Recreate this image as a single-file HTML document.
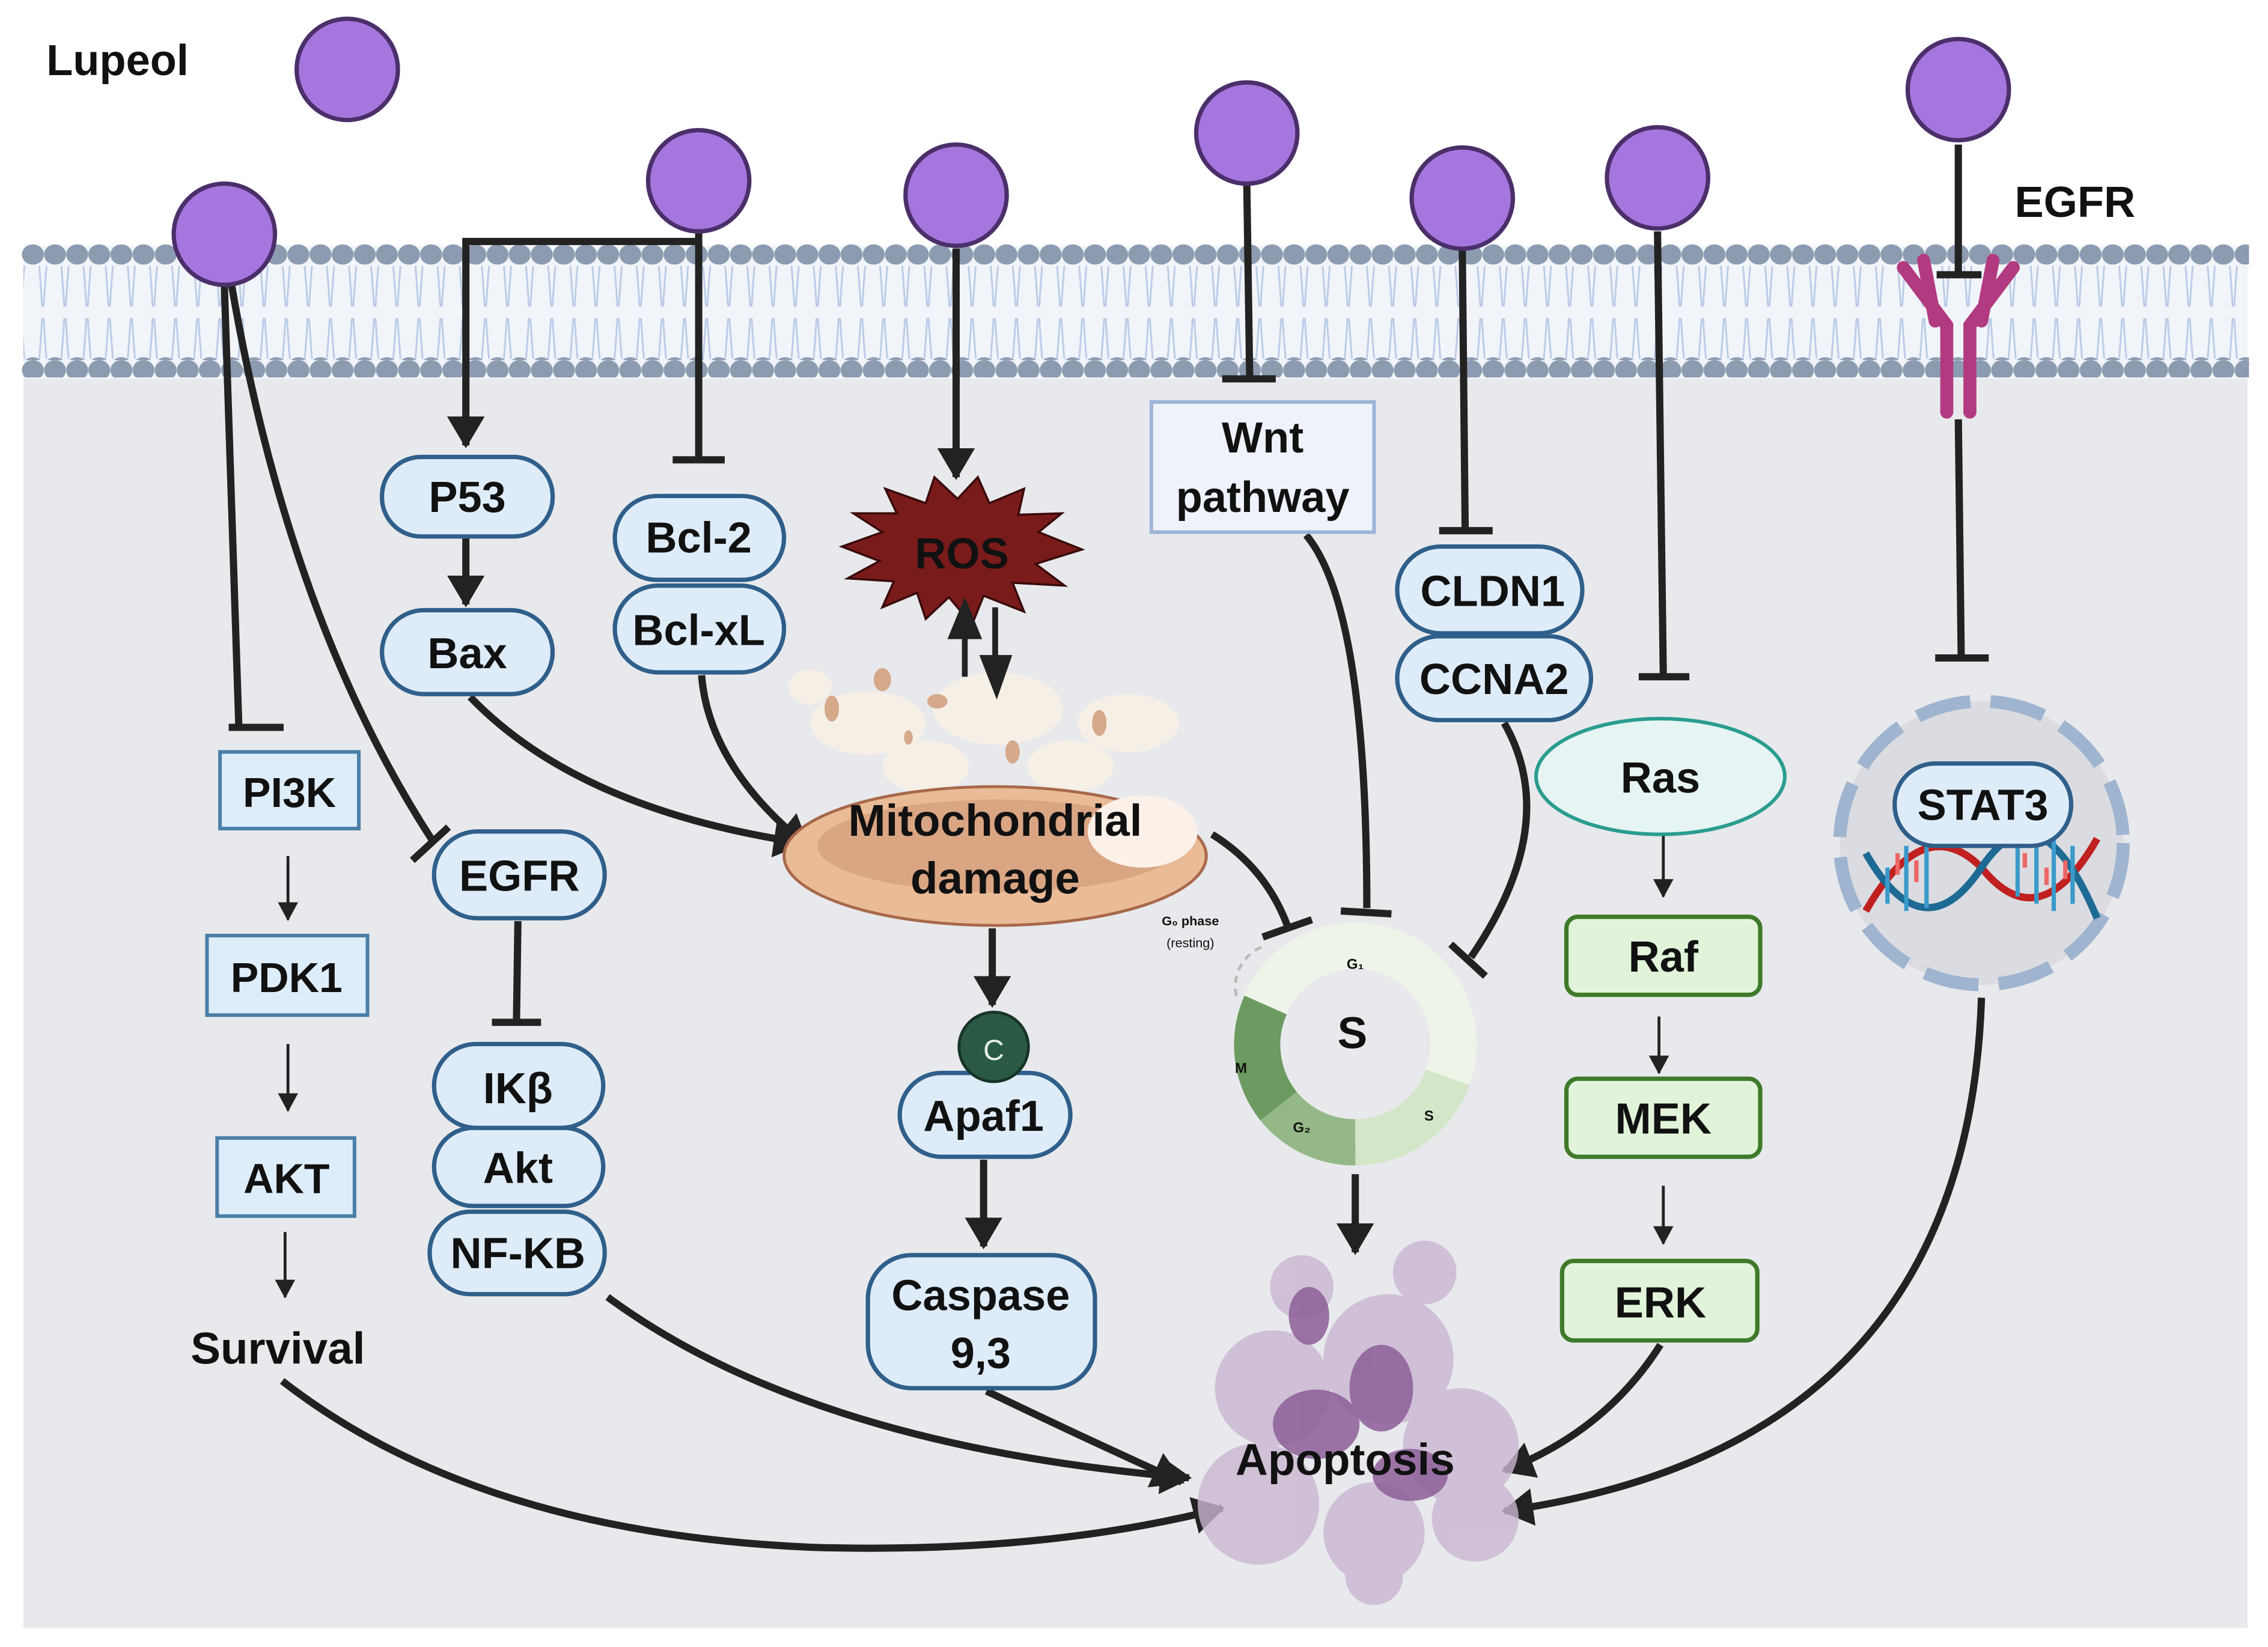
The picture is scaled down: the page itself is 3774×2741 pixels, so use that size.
<!DOCTYPE html>
<html><head><meta charset="utf-8"><style>
html,body{margin:0;padding:0;background:#fff}
svg{display:block}
text{font-family:"Liberation Sans",sans-serif;font-weight:bold;fill:#111}
</style></head><body>
<svg width="3774" height="2741" viewBox="0 0 1568 1139" xmlns="http://www.w3.org/2000/svg">
<defs>
<marker id="a" markerUnits="userSpaceOnUse" markerWidth="30" markerHeight="30" refX="20" refY="13" orient="auto"><path d="M0,0 L22,13 L0,26 Z" fill="#222"/></marker>
<marker id="s" markerUnits="userSpaceOnUse" markerWidth="16" markerHeight="16" refX="12" refY="7" orient="auto"><path d="M0,0 L13,7 L0,14 Z" fill="#222"/></marker>
<pattern id="tails" width="15.3" height="80" patternUnits="userSpaceOnUse" x="22" y="176">
<path d="M5,8 Q6,20 7,36 M10,8 Q9,20 8,36 M5,72 Q6,60 7,44 M10,72 Q9,60 8,44" stroke="#b9cbe6" stroke-width="1.2" fill="none"/>
</pattern>
<pattern id="heads" width="15.3" height="80" patternUnits="userSpaceOnUse" x="15" y="169">
<ellipse cx="7.6" cy="7" rx="7.6" ry="7" fill="#8d9bb1"/>
<ellipse cx="7.6" cy="85" rx="7.6" ry="7" fill="#8d9bb1"/>
</pattern>
</defs>

<rect x="16" y="175" width="1538" height="951" fill="#e8e9ec"/>
<rect x="16" y="170" width="1538" height="92" fill="#f1f4f9"/>
<rect x="16" y="176" width="1538" height="80" fill="url(#tails)"/>
<rect x="15" y="169" width="1540" height="14" fill="url(#heads)"/>
<rect x="15" y="247" width="1540" height="14" fill="url(#heads)"/>

<text x="32" y="52" font-size="30">Lupeol</text>
<text x="1393" y="150" font-size="30">EGFR</text>

<g stroke="#222" stroke-width="5" fill="none">
<path d="M155,197 L165,502"/><path d="M158,503 L196,503"/>
<path d="M160,197 Q200,430 300,583"/><path d="M285,595 L310,572"/>
<path d="M483,160 L483,318"/><path d="M465,318 L501,318"/>
<path d="M483,167 L322,167 L322,308" marker-end="url(#a)"/>
<path d="M661,172 L661,330" marker-end="url(#a)"/>
<path d="M862,127 L864,262"/><path d="M845,262 L882,262"/>
<path d="M1011,172 L1013,367"/><path d="M995,367 L1032,367"/>
<path d="M1146,160 L1150,468"/><path d="M1133,468 L1168,468"/>
<path d="M1354,100 L1354,190"/><path d="M1339,190 L1370,190"/>
<path d="M1354,290 L1356,455"/><path d="M1338,455 L1375,455"/>
<path d="M322,372 L322,418" marker-end="url(#a)"/>
<path d="M325,482 Q400,560 555,583" marker-end="url(#a)"/>
<path d="M485,467 Q490,530 558,585" marker-end="url(#a)"/>
<path d="M686,642 L686,695" marker-end="url(#a)"/>
<path d="M680,802 L680,862" marker-end="url(#a)"/>
<path d="M838,577 Q875,600 890,640"/><path d="M873,648 L907,636"/>
<path d="M903,370 Q945,420 945,628"/><path d="M927,630 L962,632"/>
<path d="M1040,500 Q1080,570 1017,662"/><path d="M1003,653 L1027,675"/>
<path d="M937,812 L937,866" marker-end="url(#a)"/>
<path d="M195,955 Q330,1060 560,1070 Q720,1075 845,1043" marker-end="url(#a)"/>
<path d="M420,897 Q560,1000 822,1022" marker-end="url(#a)"/>
<path d="M682,962 Q740,990 817,1025" marker-end="url(#a)"/>
<path d="M1148,930 Q1110,990 1040,1017" marker-end="url(#a)"/>
<path d="M1370,690 Q1360,1000 1040,1045" marker-end="url(#a)"/>
<path d="M358,637 L357,706"/><path d="M340,707 L374,707"/>
</g>
<g stroke="#222" stroke-width="2" fill="none">
<path d="M199,592 L199,636" marker-end="url(#s)"/>
<path d="M199,722 L199,768" marker-end="url(#s)"/>
<path d="M197,852 L197,897" marker-end="url(#s)"/>
<path d="M1150,578 L1150,620" marker-end="url(#s)"/>
<path d="M1147,703 L1147,742" marker-end="url(#s)"/>
<path d="M1150,820 L1150,860" marker-end="url(#s)"/>
</g>

<g fill="#a676df" stroke="#4b2f6a" stroke-width="3">
<circle cx="240" cy="48" r="35"/>
<circle cx="155" cy="162" r="35"/>
<circle cx="483" cy="125" r="35"/>
<circle cx="661" cy="135" r="35"/>
<circle cx="862" cy="92" r="35"/>
<circle cx="1011" cy="137" r="35"/>
<circle cx="1146" cy="123" r="35"/>
<circle cx="1354" cy="62" r="35"/>
</g>

<g stroke="#b23a80" stroke-width="9" fill="none" stroke-linecap="round">
<path d="M1346,285 L1346,225 L1316,185"/><path d="M1362,285 L1362,225 L1392,185"/>
<path d="M1330,180 L1338,222"/><path d="M1378,180 L1370,222"/>
</g>

<g stroke="#4a7fa8" stroke-width="2.5" fill="#deedfa">
<rect x="152" y="520" width="96" height="53"/>
<rect x="143" y="647" width="111" height="55"/>
<rect x="150" y="787" width="95" height="54"/>
</g>
<text x="200" y="558" font-size="29" text-anchor="middle">PI3K</text>
<text x="198" y="686" font-size="29" text-anchor="middle">PDK1</text>
<text x="198" y="825" font-size="29" text-anchor="middle">AKT</text>
<text x="192" y="943" font-size="31" text-anchor="middle" fill="#222">Survival</text>

<g stroke="#2f5f8a" stroke-width="3" fill="#deecf9">
<rect x="264" y="316" width="118" height="55" rx="27"/>
<rect x="264" y="422" width="118" height="58" rx="29"/>
<rect x="425" y="405" width="117" height="60" rx="30"/>
<rect x="425" y="343" width="117" height="58" rx="29"/>
<rect x="300" y="575" width="118" height="60" rx="30"/>
<rect x="297" y="838" width="121" height="57" rx="28"/>
<rect x="300" y="780" width="117" height="54" rx="27"/>
<rect x="300" y="722" width="117" height="58" rx="29"/>
<rect x="622" y="742" width="118" height="58" rx="29"/>
<rect x="600" y="868" width="157" height="92" rx="30"/>
<rect x="966" y="440" width="134" height="58" rx="29"/>
<rect x="966" y="378" width="128" height="60" rx="30"/>
</g>
<g font-size="30" text-anchor="middle">
<text x="323" y="354">P53</text>
<text x="323" y="462">Bax</text>
<text x="483" y="382">Bcl-2</text>
<text x="483" y="446">Bcl-xL</text>
<text x="359" y="616">EGFR</text>
<text x="358" y="763">IKβ</text>
<text x="358" y="818">Akt</text>
<text x="358" y="877">NF-KB</text>
<text x="680" y="782">Apaf1</text>
<text x="678" y="906">Caspase</text>
<text x="678" y="946">9,3</text>
<text x="1032" y="419">CLDN1</text>
<text x="1033" y="480">CCNA2</text>
</g>

<rect x="796" y="278" width="154" height="90" fill="#eef3fb" stroke="#9db4d8" stroke-width="2.5"/>
<text x="873" y="313" font-size="30" text-anchor="middle">Wnt</text>
<text x="873" y="354" font-size="30" text-anchor="middle">pathway</text>

<polygon fill="#7a1b1b" stroke="#3a0a0a" stroke-width="1.5" points="748,380 716,390 736,405 700,403 708,423 680,412 672,432 656,413 640,428 634,410 610,420 618,402 586,400 608,388 582,378 610,368 590,355 620,355 612,338 640,348 646,330 662,345 676,330 684,348 708,338 704,356 734,355 718,368"/>
<text x="665" y="393" font-size="30" text-anchor="middle">ROS</text>

<g fill="#f6efe6">
<ellipse cx="600" cy="500" rx="40" ry="22"/><ellipse cx="690" cy="490" rx="45" ry="25"/><ellipse cx="780" cy="500" rx="35" ry="20"/>
<ellipse cx="640" cy="530" rx="30" ry="18"/><ellipse cx="740" cy="530" rx="30" ry="18"/><ellipse cx="560" cy="475" rx="15" ry="12"/>
</g>
<g fill="#d5a98a">
<ellipse cx="575" cy="490" rx="5" ry="9"/><ellipse cx="610" cy="470" rx="6" ry="8"/><ellipse cx="648" cy="485" rx="7" ry="5"/>
<ellipse cx="700" cy="520" rx="5" ry="8"/><ellipse cx="760" cy="500" rx="5" ry="9"/><ellipse cx="628" cy="510" rx="3" ry="5"/>
</g>
<g stroke="#222" stroke-width="4" fill="#222">
<path d="M667,468 L667,430" fill="none"/><path d="M658,440 L667,418 L676,440 Z"/>
<path d="M688,420 L688,460" fill="none"/><path d="M680,455 L689,478 L697,455 Z"/>
</g>

<ellipse cx="688" cy="592" rx="146" ry="48" fill="#e9bb97" stroke="#a8684a" stroke-width="2"/>
<ellipse cx="690" cy="585" rx="125" ry="32" fill="#d9a583"/>
<ellipse cx="790" cy="575" rx="38" ry="25" fill="#fbf1e8"/>
<text x="688" y="578" font-size="31" text-anchor="middle">Mitochondrial</text>
<text x="688" y="618" font-size="31" text-anchor="middle">damage</text>

<circle cx="687" cy="724" r="24" fill="#2a5a44" stroke="#183428" stroke-width="2"/>
<text x="687" y="733" font-size="20" text-anchor="middle" style="fill:#e8f0ea;font-weight:normal">C</text>

<!-- cell cycle ring: center 937,722 -->
<g fill="none" stroke-width="32">
<circle cx="937" cy="722" r="68" stroke="#eef5e8"/>
<path d="M1001,745 A68,68 0 0 1 937,790" stroke="#d3e6c8"/>
<path d="M937,790 A68,68 0 0 1 884,765" stroke="#94b887"/>
<path d="M884,765 A68,68 0 0 1 875,695" stroke="#6d9a60"/>
</g>
<path d="M872,655 A30,30 0 0 0 855,690" stroke="#bbb" stroke-width="2" fill="none" stroke-dasharray="5,4"/>
<text x="935" y="725" font-size="31" text-anchor="middle">S</text>
<text x="937" y="670" font-size="10" text-anchor="middle" fill="#333">G₁</text>
<text x="988" y="775" font-size="10" text-anchor="middle" fill="#333">S</text>
<text x="900" y="783" font-size="10" text-anchor="middle" fill="#333">G₂</text>
<text x="858" y="742" font-size="10" text-anchor="middle" fill="#333">M</text>
<text x="823" y="640" font-size="9" text-anchor="middle" fill="#555">G₀ phase</text>
<text x="823" y="655" font-size="9" text-anchor="middle" fill="#555" style="font-weight:normal">(resting)</text>

<g fill="#c9b6d2" opacity="0.8">
<circle cx="880" cy="960" r="40"/><circle cx="960" cy="940" r="45"/><circle cx="1010" cy="1000" r="40"/>
<circle cx="870" cy="1040" r="42"/><circle cx="950" cy="1060" r="35"/><circle cx="1020" cy="1050" r="30"/>
<circle cx="985" cy="880" r="22"/><circle cx="900" cy="890" r="22"/><circle cx="950" cy="1090" r="20"/>
</g>
<g fill="#8d5f98" opacity="0.85">
<ellipse cx="910" cy="985" rx="30" ry="24"/><ellipse cx="955" cy="960" rx="22" ry="30"/><ellipse cx="975" cy="1020" rx="26" ry="18"/>
<ellipse cx="905" cy="910" rx="14" ry="20"/>
</g>
<text x="930" y="1020" font-size="31" text-anchor="middle">Apoptosis</text>

<ellipse cx="1148" cy="537" rx="86" ry="40" fill="#e6f5f3" stroke="#2a9d8f" stroke-width="2.5"/>
<text x="1148" y="548" font-size="30" text-anchor="middle">Ras</text>
<g fill="#e1f4da" stroke="#3e7a2a" stroke-width="3">
<rect x="1083" y="634" width="134" height="54" rx="8"/>
<rect x="1083" y="746" width="134" height="54" rx="8"/>
<rect x="1080" y="872" width="135" height="55" rx="8"/>
</g>
<text x="1150" y="672" font-size="30" text-anchor="middle">Raf</text>
<text x="1150" y="784" font-size="30" text-anchor="middle">MEK</text>
<text x="1148" y="911" font-size="30" text-anchor="middle">ERK</text>

<circle cx="1370" cy="583" r="98" fill="#dadce1" stroke="#9fb4cf" stroke-width="9" stroke-dasharray="38,14"/>
<path d="M1290,630 Q1330,560 1370,600 Q1410,650 1450,580" stroke="#c02020" stroke-width="5" fill="none"/>
<path d="M1290,590 Q1330,660 1370,600 Q1410,540 1450,635" stroke="#1d6a94" stroke-width="5" fill="none"/>
<g stroke-width="3">
<path d="M1305,600 L1305,625 M1318,585 L1318,630 M1332,585 L1332,628 M1395,575 L1395,620 M1408,570 L1408,625 M1420,575 L1420,630 M1433,585 L1433,625" stroke="#3a9ac9"/>
<path d="M1312,590 L1312,605 M1325,595 L1325,610 M1400,590 L1400,600 M1415,600 L1415,612 M1428,595 L1428,608" stroke="#e66"/>
</g>
<rect x="1310" y="528" width="122" height="57" rx="28" fill="#deecf9" stroke="#2f5f8a" stroke-width="3"/>
<text x="1371" y="567" font-size="30" text-anchor="middle">STAT3</text>
</svg>
</body></html>
